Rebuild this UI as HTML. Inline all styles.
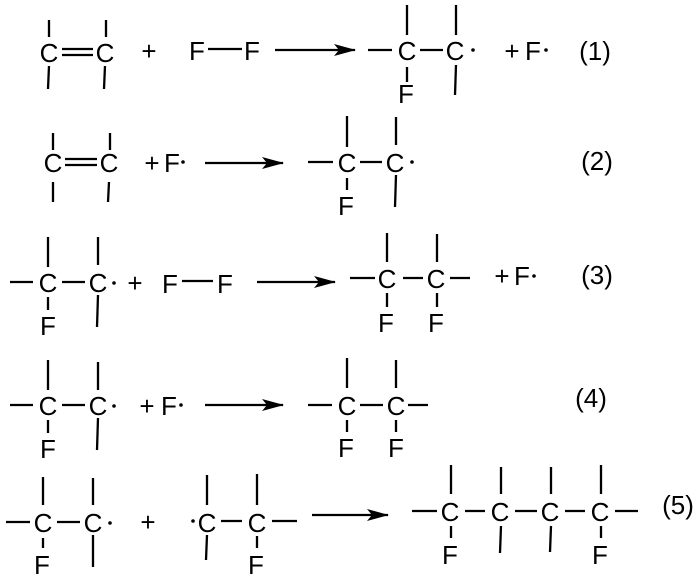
<!DOCTYPE html>
<html><head><meta charset="utf-8"><style>
html,body{margin:0;padding:0;background:#fff;}
svg{display:block;}
svg text{font-family:"Liberation Sans",Arial,sans-serif;font-size:26px;transform:translateY(2px);}
line{stroke:#000;stroke-width:2.3;}
</style></head><body>
<svg width="700" height="580" viewBox="0 0 700 580" xmlns="http://www.w3.org/2000/svg">
<defs><marker id="a" markerWidth="22" markerHeight="12" refX="21" refY="6" orient="auto" markerUnits="userSpaceOnUse"><path d="M0,0 L22,6 L0,12 L5,6 Z" fill="#000"/></marker></defs>
<g text-anchor="middle" fill="#000" font-size="26">

<!-- Row 1 y=52 -->
<text x="49" y="60">C</text><text x="105" y="60">C</text>
<line x1="62" y1="49" x2="93" y2="49"/><line x1="62" y1="55" x2="93" y2="55"/>
<line x1="49" y1="20" x2="49" y2="37"/><line x1="49" y1="66" x2="48" y2="89"/>
<line x1="106" y1="20" x2="106" y2="37"/><line x1="105" y1="66" x2="104" y2="89"/>
<text x="149" y="58">+</text>
<text x="197" y="58">F</text><line x1="208" y1="49" x2="242" y2="49"/><text x="252" y="58">F</text>
<line x1="275" y1="50" x2="355" y2="50" marker-end="url(#a)"/>
<line x1="368" y1="50" x2="392" y2="50"/><text x="407" y="58">C</text>
<line x1="420" y1="50" x2="443" y2="50"/><text x="455" y="58">C</text><circle cx="473" cy="50" r="1.8"/>
<line x1="407" y1="5" x2="407" y2="35"/><line x1="407" y1="67" x2="407" y2="82"/><text x="406" y="101">F</text>
<line x1="456" y1="5" x2="456" y2="35"/><line x1="456" y1="65" x2="455" y2="95"/>
<text x="512" y="58">+</text><text x="533" y="58">F</text><circle cx="546" cy="50" r="1.8"/>
<text x="595" y="58">(1)</text>

<!-- Row 2 y=162 -->
<text x="53" y="170">C</text><text x="109" y="170">C</text>
<line x1="65" y1="159" x2="97" y2="159"/><line x1="65" y1="165" x2="97" y2="165"/>
<line x1="53" y1="133" x2="53" y2="150"/><line x1="53" y1="182" x2="53" y2="202"/>
<line x1="110" y1="133" x2="110" y2="150"/><line x1="109" y1="182" x2="108" y2="202"/>
<text x="152" y="170">+</text><text x="172" y="170">F</text><circle cx="183" cy="162" r="1.8"/>
<line x1="205" y1="163" x2="283" y2="163" marker-end="url(#a)"/>
<line x1="308" y1="162" x2="333" y2="162"/><text x="347" y="170">C</text>
<line x1="360" y1="162" x2="382" y2="162"/><text x="395" y="170">C</text><circle cx="412" cy="162" r="1.8"/>
<line x1="347" y1="116" x2="347" y2="147"/><line x1="347" y1="178" x2="347" y2="190"/><text x="346" y="213">F</text>
<line x1="396" y1="117" x2="396" y2="145"/><line x1="396" y1="175" x2="395" y2="207"/>
<text x="597" y="168">(2)</text>

<!-- Row 3 y=282 -->
<line x1="10" y1="282" x2="33" y2="282"/><text x="48" y="290">C</text>
<line x1="62" y1="282" x2="85" y2="282"/><text x="98" y="290">C</text><circle cx="114" cy="283" r="1.8"/>
<line x1="48" y1="237" x2="48" y2="267"/><line x1="48" y1="297" x2="48" y2="310"/><text x="48" y="333">F</text>
<line x1="98" y1="237" x2="98" y2="265"/><line x1="98" y1="295" x2="97" y2="327"/>
<text x="135" y="290">+</text>
<text x="170" y="291">F</text><line x1="182" y1="281" x2="213" y2="281"/><text x="225" y="291">F</text>
<line x1="257" y1="282" x2="335" y2="282" marker-end="url(#a)"/>
<line x1="350" y1="278" x2="375" y2="278"/><text x="387" y="286">C</text>
<line x1="403" y1="278" x2="423" y2="278"/><text x="436" y="286">C</text>
<line x1="450" y1="278" x2="470" y2="278"/>
<line x1="387" y1="233" x2="387" y2="262"/><line x1="387" y1="293" x2="387" y2="307"/><text x="386" y="330">F</text>
<line x1="437" y1="234" x2="437" y2="262"/><line x1="437" y1="293" x2="437" y2="307"/><text x="436" y="330">F</text>
<text x="502" y="283">+</text><text x="522" y="283">F</text><circle cx="534" cy="276" r="1.8"/>
<text x="597" y="282">(3)</text>

<!-- Row 4 y=405 -->
<line x1="10" y1="405" x2="33" y2="405"/><text x="48" y="413">C</text>
<line x1="62" y1="405" x2="85" y2="405"/><text x="98" y="413">C</text><circle cx="114" cy="406" r="1.8"/>
<line x1="48" y1="360" x2="48" y2="390"/><line x1="48" y1="420" x2="48" y2="433"/><text x="48" y="456">F</text>
<line x1="98" y1="362" x2="98" y2="390"/><line x1="98" y1="418" x2="97" y2="450"/>
<text x="147" y="413">+</text><text x="169" y="413">F</text><circle cx="181" cy="405" r="1.8"/>
<line x1="205" y1="405" x2="283" y2="405" marker-end="url(#a)"/>
<line x1="308" y1="405" x2="332" y2="405"/><text x="347" y="413">C</text>
<line x1="360" y1="405" x2="383" y2="405"/><text x="396" y="413">C</text>
<line x1="408" y1="405" x2="428" y2="405"/>
<line x1="347" y1="358" x2="347" y2="388"/><line x1="347" y1="420" x2="347" y2="432"/><text x="346" y="455">F</text>
<line x1="396" y1="360" x2="396" y2="388"/><line x1="396" y1="420" x2="396" y2="432"/><text x="396" y="455">F</text>
<text x="591" y="405">(4)</text>

<!-- Row 5 y=522 -->
<line x1="6" y1="522" x2="30" y2="522"/><text x="43" y="530">C</text>
<line x1="57" y1="522" x2="80" y2="522"/><text x="93" y="530">C</text><circle cx="110" cy="523" r="1.8"/>
<line x1="43" y1="477" x2="43" y2="505"/><line x1="43" y1="538" x2="43" y2="548"/><text x="42" y="572">F</text>
<line x1="93" y1="478" x2="93" y2="505"/><line x1="93" y1="535" x2="93" y2="567"/>
<text x="148" y="529">+</text>
<circle cx="193" cy="521" r="1.8"/><text x="207" y="530">C</text>
<line x1="221" y1="521" x2="242" y2="521"/><text x="257" y="530">C</text>
<line x1="272" y1="521" x2="297" y2="521"/>
<line x1="207" y1="475" x2="207" y2="505"/><line x1="207" y1="535" x2="206" y2="560"/>
<line x1="257" y1="474" x2="257" y2="505"/><line x1="257" y1="536" x2="257" y2="548"/><text x="256" y="572">F</text>
<line x1="312" y1="515" x2="388" y2="515" marker-end="url(#a)"/>
<line x1="412" y1="511" x2="437" y2="511"/><text x="450" y="519">C</text>
<line x1="465" y1="511" x2="485" y2="511"/><text x="500" y="519">C</text>
<line x1="515" y1="511" x2="537" y2="511"/><text x="550" y="519">C</text>
<line x1="565" y1="511" x2="585" y2="511"/><text x="600" y="519">C</text>
<line x1="615" y1="511" x2="638" y2="511"/>
<line x1="451" y1="465" x2="451" y2="494"/><line x1="451" y1="526" x2="451" y2="538"/><text x="450" y="562">F</text>
<line x1="501" y1="467" x2="501" y2="494"/><line x1="501" y1="526" x2="500" y2="553"/>
<line x1="551" y1="467" x2="551" y2="494"/><line x1="551" y1="526" x2="550" y2="552"/>
<line x1="601" y1="465" x2="601" y2="494"/><line x1="601" y1="526" x2="601" y2="538"/><text x="600" y="562">F</text>
<text x="678" y="512">(5)</text>
</g>
</svg>
</body></html>
